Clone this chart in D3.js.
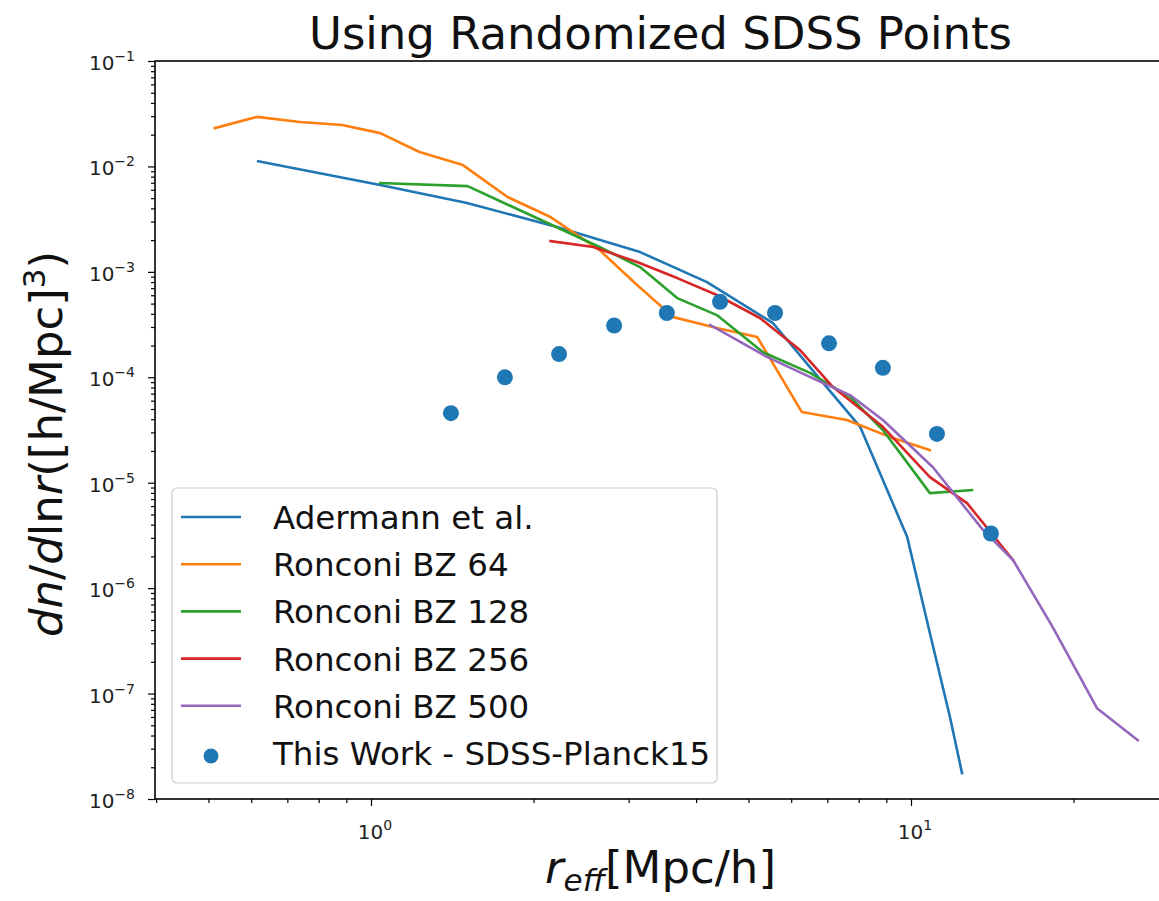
<!DOCTYPE html>
<html><head><meta charset="utf-8">
<script src="https://cdn.jsdelivr.net/npm/d3@7"></script>
<style>body{margin:0;background:#fff}svg{display:block}text{font-family:"DejaVu Sans",sans-serif}</style>
</head><body><svg id="c" width="1159" height="901"></svg>
<script>
const adermannR = [0.618,1.04,1.506,2.21,3.15,4.19,5.55,6.98,8.05,8.87,9.84,10.84,11.81,12.43];
const adermannN = [1.12e-2,6.66e-3,4.5e-3,2.66e-3,1.54e-3,8.0e-4,3.27e-4,8.07e-5,3.39e-5,1.06e-5,3.05e-6,3.74e-7,5.97e-8,1.76e-8];
const bz64R = [0.514,0.615,0.739,0.884,1.04,1.23,1.48,1.79,2.15,2.65,3.11,3.63,4.37,5.19,6.28,7.61,9.26,10.84];
const bz64N = [2.31e-2,2.95e-2,2.64e-2,2.47e-2,2.07e-2,1.37e-2,1.03e-2,5.13e-3,3.31e-3,1.61e-3,7.5e-4,3.72e-4,2.93e-4,2.41e-4,4.68e-5,3.93e-5,2.65e-5,2.04e-5];
const bz128R = [1.04,1.51,2.65,3.15,3.69,4.37,5.32,6.50,7.71,8.87,10.84,12.97];
const bz128N = [6.96e-3,6.5e-3,1.72e-3,1.11e-3,5.64e-4,3.89e-4,1.73e-4,1.1e-4,6.5e-5,3.16e-5,7.97e-6,8.5e-6];
const bz256R = [2.15,2.58,3.11,3.69,4.37,5.25,6.23,7.17,8.87,10.84,12.7,15.45];
const bz256N = [1.96e-3,1.72e-3,1.24e-3,8.73e-4,6.03e-4,3.65e-4,1.81e-4,8.07e-5,3.39e-5,1.13e-5,6.4e-6,1.85e-6];
const bz500R = [4.25,5.41,6.69,7.71,8.87,10.98,13.6,15.45,18.3,22.1,26.3];
const bz500N = [3.13e-4,1.56e-4,9.4e-5,6.78e-5,3.93e-5,1.4e-5,3.55e-6,1.85e-6,4.27e-7,7.26e-8,3.61e-8];
const workR = [1.406,1.77,2.23,2.82,3.53,4.43,5.60,7.05,8.87,11.17,14.06];
const workN = [4.57e-5,1.0e-4,1.66e-4,3.1e-4,4.07e-4,5.2e-4,4.07e-4,2.1e-4,1.23e-4,2.9e-5,3.3e-6];
const seriesNames = ["Adermann et al.","Ronconi BZ 64","Ronconi BZ 128","Ronconi BZ 256","Ronconi BZ 500"];
const scatterName = "This Work - SDSS-Planck15";
const xMajorTicks = [1,10];
const yMajorTicks = [1e-8,1e-7,1e-6,1e-5,1e-4,1e-3,1e-2,1e-1];
const titleText = "Using Randomized SDSS Points";

const colors = ["#1f77b4","#ff7f0e","#2ca02c","#d62728","#9467bd"];
const series = [[adermannR,adermannN],[bz64R,bz64N],[bz128R,bz128N],[bz256R,bz256N],[bz500R,bz500N]];

const svg = d3.select("#c");
const L=155, T=61, R=1166, B=799;
const x = d3.scaleLog().domain([10**((L-371)/540), 10**((R-371)/540)]).range([L,R]);
const y = d3.scaleLog().domain([1e-8,1e-1]).range([B,T]);

const g = svg.append("g");
svg.append("clipPath").attr("id","cp").append("rect").attr("x",L).attr("y",T).attr("width",R-L).attr("height",B-T);
const plot = g.append("g").attr("clip-path","url(#cp)");
const line = d3.line().x(d=>x(d[0])).y(d=>y(d[1]));
series.forEach((s,i)=>{
  const pts = s[0].map((r,j)=>[r,s[1][j]]);
  plot.append("path").datum(pts).attr("d",line).attr("fill","none").attr("stroke",colors[i]).attr("stroke-width",2.6).attr("stroke-linejoin","round").attr("stroke-linecap","square");
});
plot.selectAll("circle.w").data(workR.map((r,j)=>[r,workN[j]])).enter().append("circle")
  .attr("cx",d=>x(d[0])).attr("cy",d=>y(d[1])).attr("r",8).attr("fill","#1f77b4");

const xMinor = [];
[0.1,1,10].forEach(p=>{for(let k=2;k<=9;k++){const v=p*k; if(v>x.domain()[0]&&v<x.domain()[1]) xMinor.push(v);}});
const yMinor = [];
yMajorTicks.forEach(p=>{for(let k=2;k<=9;k++){const v=p*k; if(v<1e-1) yMinor.push(v);}});

const xAx = g.append("g").attr("transform",`translate(0,${B})`)
  .call(d3.axisBottom(x).tickValues(xMajorTicks).tickSize(7).tickFormat(""));
const xAxm = g.append("g").attr("transform",`translate(0,${B})`)
  .call(d3.axisBottom(x).tickValues(xMinor).tickSize(4).tickFormat(""));
const yAx = g.append("g").attr("transform",`translate(${L},0)`)
  .call(d3.axisLeft(y).tickValues(yMajorTicks).tickSize(7).tickFormat(""));
const yAxm = g.append("g").attr("transform",`translate(${L},0)`)
  .call(d3.axisLeft(y).tickValues(yMinor).tickSize(4).tickFormat(""));
[xAx,xAxm,yAx,yAxm].forEach(a=>{a.select(".domain").remove(); a.selectAll("line").attr("stroke","#000").attr("stroke-width",1.2);});

g.append("rect").attr("x",L).attr("y",T).attr("width",R-L).attr("height",B-T).attr("fill","none").attr("stroke","#000").attr("stroke-width",1.6);

yMajorTicks.forEach(v=>{
  const e = Math.round(Math.log10(v));
  const t = g.append("text").attr("x",L-20).attr("y",y(v)+9).attr("text-anchor","end").attr("font-size",20).attr("fill","#222");
  t.append("tspan").text("10");
  t.append("tspan").attr("dy",-9).attr("font-size",14).text("\u2212"+(-e));
});
xMajorTicks.forEach(v=>{
  const e = Math.round(Math.log10(v));
  const t = g.append("text").attr("x",x(v)+4).attr("y",B+40).attr("text-anchor","middle").attr("font-size",20).attr("fill","#222");
  t.append("tspan").text("10");
  t.append("tspan").attr("dy",-9).attr("font-size",14).text(String(e));
});

svg.append("text").attr("x",(L+R)/2).attr("y",49).attr("text-anchor","middle").attr("font-size",45).attr("fill","#111").text(titleText);

const xl = svg.append("text").attr("x",(L+R)/2).attr("y",883).attr("text-anchor","middle").attr("font-size",45).attr("fill","#111");
xl.append("tspan").attr("font-style","italic").text("r");
xl.append("tspan").attr("font-style","italic").attr("font-size",31).attr("dy",8).text("eff");
xl.append("tspan").attr("dy",-8).text("[Mpc/h]");

const yl = svg.append("text").attr("transform",`translate(62,${(T+B)/2 + 14}) rotate(-90)`).attr("text-anchor","middle").attr("font-size",45).attr("fill","#111");
yl.append("tspan").attr("font-style","italic").text("dn");
yl.append("tspan").text("/");
yl.append("tspan").attr("font-style","italic").text("d");
yl.append("tspan").text("ln");
yl.append("tspan").attr("font-style","italic").text("r");
yl.append("tspan").text("([h/Mpc]");
yl.append("tspan").attr("dy",-17).attr("font-size",31).text("3");
yl.append("tspan").attr("dy",17).text(")");

const lg = svg.append("g");
lg.append("rect").attr("x",172).attr("y",488).attr("width",545).attr("height",295).attr("rx",5)
  .attr("fill","#fff").attr("fill-opacity",0.85).attr("stroke","#ccc").attr("stroke-width",1.2);
const rowY = d3.scaleLinear().domain([0,5]).range([517,753]);
seriesNames.forEach((n,i)=>{
  lg.append("line").attr("x1",181).attr("x2",241).attr("y1",rowY(i)).attr("y2",rowY(i)).attr("stroke",colors[i]).attr("stroke-width",2.6);
  lg.append("text").attr("x",273).attr("y",rowY(i)+12).attr("font-size",32.5).attr("fill","#111").text(n);
});
lg.append("circle").attr("cx",211).attr("cy",rowY(5)+3).attr("r",7.5).attr("fill","#1f77b4");
lg.append("text").attr("x",273).attr("y",rowY(5)+12).attr("font-size",32.5).attr("fill","#111").text(scatterName);
</script></body></html>
